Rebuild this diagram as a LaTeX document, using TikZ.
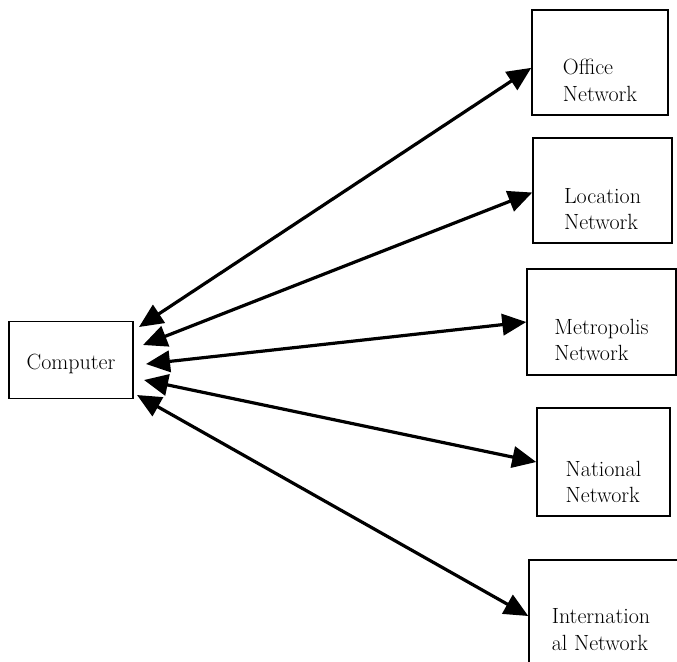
\documentclass[tikz,border=0pt]{standalone}
\usetikzlibrary{arrows.meta,positioning}

\begin{document}
\begin{tikzpicture}[x=0.75pt,y=-0.75pt,>={Triangle[length=18pt,width=16pt]},
  netbox/.style={draw,line width=1.1pt,inner sep=0pt},
  nettext/.style={align=left,inner sep=0pt,font=\fontsize{16.5}{20}\selectfont},
  link/.style={<->,line width=2.4pt}]
  \useasboundingbox (0,0) rectangle (677,661);
  \clip (0,0) rectangle (677,661);
  % computer
  \node[netbox,minimum width=93pt,minimum height=58pt] (comp) at (71,360) {};
  \node[nettext] (compt) at ([yshift=-3pt]comp.center) {Computer};
  % networks
  \node[netbox,minimum width=102pt,minimum height=78.75pt] (office) at (600,62.5) {};
  \node[nettext] (officet) at ([yshift=-13.5pt]office.center) {Office\\Network};
  \node[netbox,minimum width=104.25pt,minimum height=78.75pt] (loc) at (602.5,190.5) {};
  \node[nettext] (loct) at ([yshift=-14pt]loc.center) {Location\\Network};
  \node[netbox,minimum width=111.75pt,minimum height=79.5pt] (metro) at (601.5,322) {};
  \node[nettext] (metrot) at ([yshift=-13.5pt]metro.center) {Metropolis\\Network};
  \node[netbox,minimum width=99.75pt,minimum height=81pt] (nat) at (603.5,462) {};
  \node[nettext] (natt) at ([yshift=-15pt]nat.center) {National\\Network};
  \node[netbox,minimum width=120pt,minimum height=90pt] (intl) at (609,620) {};
  \node[nettext] (intlt) at ([xshift=-6pt,yshift=-7pt]intl.center) {Internation\\al Network};
  % arrow ends at the computer
  \coordinate (c1) at (139,327);
  \coordinate (c2) at (143,345);
  \coordinate (c3) at (146,364);
  \coordinate (c4) at (144,380);
  \coordinate (c5) at (137,395);
  \draw[link] (c1) -- ([yshift=-4pt]office.west);
  \draw[link] (c2) -- ([yshift=-1.5pt]loc.west);
  \draw[link] (c3) -- (metro.west);
  \draw[link] (c4) -- (nat.west);
  \draw[link] (c5) -- ([yshift=3pt]intl.west);
\end{tikzpicture}
\end{document}
